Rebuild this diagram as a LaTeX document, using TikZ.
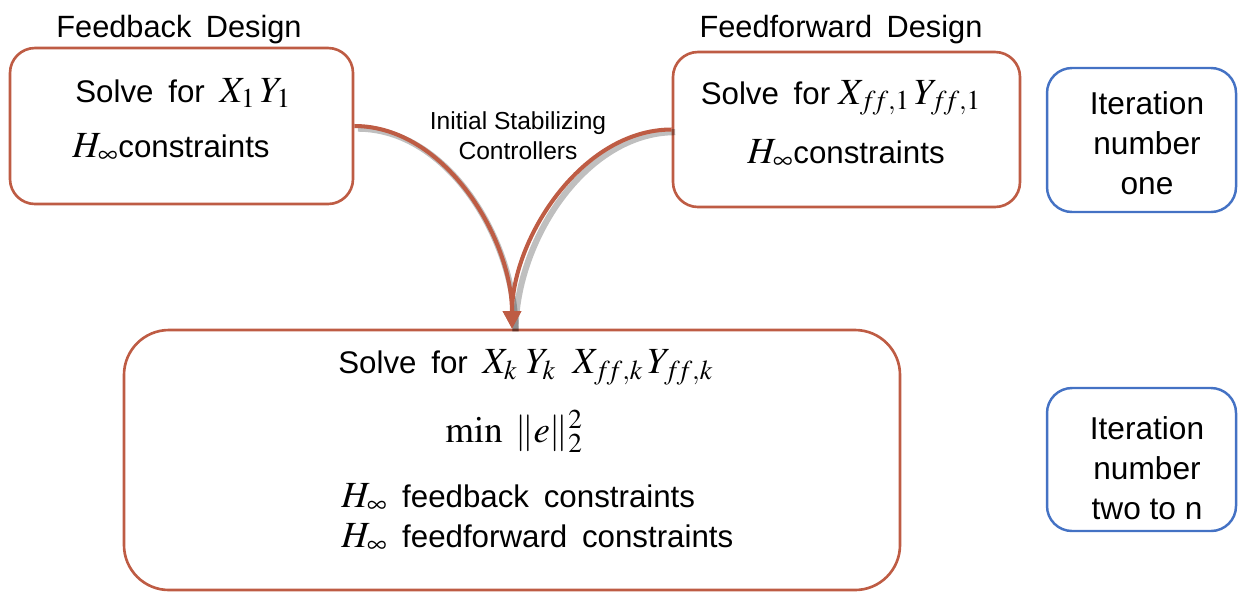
\documentclass[tikz,border=0pt]{standalone}
\usepackage{mathptmx}
\usepackage[no-math]{fontspec}
\setmainfont{Liberation Sans}
\newfontfamily\widefont{Liberation Sans}[WordSpace=1.7]
\usetikzlibrary{arrows.meta,fit}
\definecolor{boxbrown}{RGB}{190,92,68}
\definecolor{itblue}{RGB}{68,114,196}
\def\mth#1{{\fontsize{21}{24}\selectfont$#1$}}

\begin{document}
\begin{tikzpicture}[x=0.02cm,y=-0.02cm,
		box/.style={draw=boxbrown,line width=1.5pt,rounded corners=0.5cm,inner sep=0pt},
		itbox/.style={draw=itblue,line width=1.4pt,rounded corners=0.5cm,inner sep=0pt},
		ittxt/.style={align=center,inner sep=0pt,font=\fontsize{18}{22.7}\selectfont},
		txt/.style={font=\widefont\fontsize{17.8}{20}\selectfont,inner sep=0pt},
		title/.style={font=\widefont\fontsize{17.5}{20}\selectfont,inner sep=0pt},
		link/.style={draw=boxbrown,line width=2.3pt,-{Triangle[length=10pt,width=10pt]}},
		shade/.style={draw=black,opacity=0.25,line width=3.5pt,transform canvas={shift={(2pt,-1.5pt)}}}]
			%%%%% START %%%%%
			
			\useasboundingbox (0,0) rectangle (1239,593);
			
			% first iteration boxes
			\node[box, fit={(10,48) (353,204)}] (fb) {};
			\node[box, fit={(673,52) (1020,207)}] (ff) {};
			\node[title, anchor=base] (fbtitle) at (179,37) {Feedback Design};
			\node[title, anchor=base] (fftitle) at (841,37) {Feedforward Design};
			
			\node[txt, anchor=base west] (fbsolve) at (75,102) {Solve for \mth{X_1\,Y_1}};
			\node[txt, anchor=base west] (fbcon) at (72,157) {\mth{H_\infty}constraints};
			\node[txt, anchor=base] (ffsolve) at (841,104) {Solve for\mth{\;X_{f\!f,1}\,Y_{f\!f,1}}};
			\node[txt, anchor=base] (ffcon) at (846,163) {\mth{H_\infty}constraints};
			
			% later iterations
			\node[box, rounded corners=0.9cm, fit={(124,330) (900,590)}] (bot) {};
			\node[txt, anchor=base west] (botsolve) at (338,373) {Solve for \mth{X_k\;Y_k\;\;X_{f\!f,k}\,Y_{f\!f,k}}};
			\node[txt, anchor=base west] (botmin) at (445,442) {\mth{\min\;\|e\|_2^2}};
			\node[txt, anchor=base west] (botfb) at (341,507) {\mth{H_\infty} feedback constraints};
			\node[txt, anchor=base west] (botff) at (341,547) {\mth{H_\infty} feedforward constraints};
			
			% iteration labels
			\node[itbox, fit={(1047,68) (1236,212)}] (itone) {};
			\node[itbox, fit={(1047,388) (1236,531)}] (itmore) {};
			\node[ittxt] (itonetxt) at (1147,143) {Iteration\\number\\one};
			\node[ittxt] (itmoretxt) at (1147,468) {Iteration\\number\\two to n};
			
			% arrows with shadow
			\draw[shade] (fb.east) to[out=0,in=90,looseness=0.9] (bot.north);
			\draw[shade] (ff.west) to[out=180,in=90,looseness=0.9] (bot.north);
			\draw[link] (fb.east) to[out=0,in=90,looseness=0.9] (bot.north);
			\draw[link] (ff.west) to[out=180,in=90,looseness=0.9] (bot.north);
			
			\node[font=\fontsize{14}{17}\selectfont, align=center, inner sep=0pt] (init) at (518,136) {Initial Stabilizing\\Controllers};
			
			%%%%% END %%%%%
\end{tikzpicture}
\end{document}
